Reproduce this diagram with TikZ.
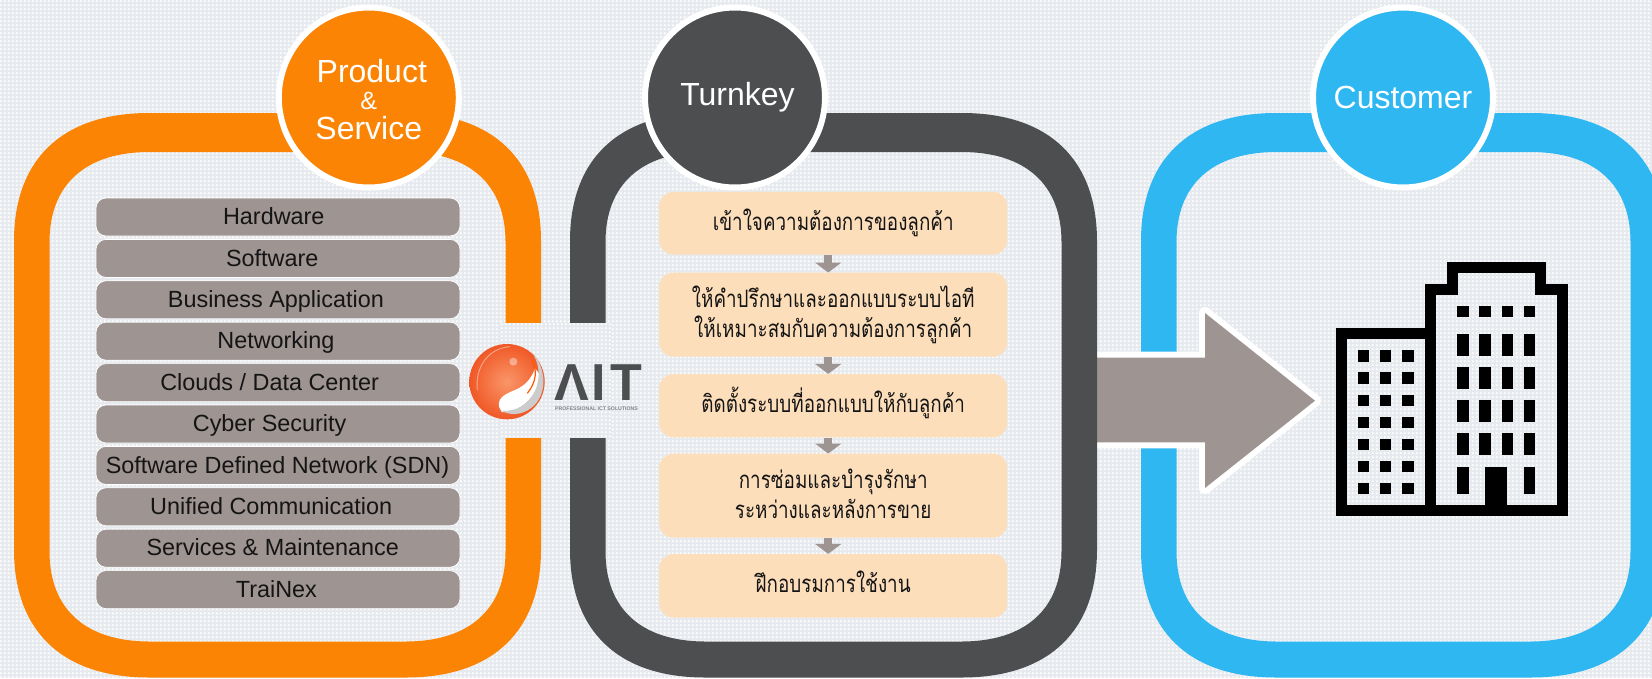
\documentclass[tikz,border=0pt]{standalone}
\usepackage{fontspec}
\setmainfont{Liberation Sans}
\newfontfamily\thaifont[Script=Thai,FakeStretch=0.785]{Loma}
\usetikzlibrary{patterns,arrows.meta}
\pgfdeclarepatternformonly{bgdots}{\pgfpointorigin}{\pgfqpoint{4pt}{4pt}}{\pgfqpoint{4pt}{4pt}}{%
  \pgfpathrectangle{\pgfqpoint{1pt}{1pt}}{\pgfqpoint{2.2pt}{2.2pt}}\pgfusepath{fill}}
\definecolor{bgbase}{HTML}{E6EAEE}
\definecolor{orangeF}{HTML}{FC8404}
\definecolor{darkF}{HTML}{4D4E50}
\definecolor{blueF}{HTML}{2FB7F2}
\definecolor{greyB}{HTML}{9E9492}
\definecolor{beige}{HTML}{FDDEBB}
\newcommand{\rrpath}[6]{({#1},{#2+#6}) .. controls ({#1},{#2+#6*.36}) and ({#1+#5*.36},{#2}) .. ({#1+#5},{#2})
 -- ({#3-#5},{#2}) .. controls ({#3-#5*.36},{#2}) and ({#3},{#2+#6*.36}) .. ({#3},{#2+#6})
 -- ({#3},{#4-#6}) .. controls ({#3},{#4-#6*.36}) and ({#3-#5*.36},{#4}) .. ({#3-#5},{#4})
 -- ({#1+#5},{#4}) .. controls ({#1+#5*.36},{#4}) and ({#1},{#4-#6*.36}) .. ({#1},{#4-#6}) -- cycle}
\newcommand{\frameshape}[5]{\fill[#5,even odd rule] \rrpath{#1}{#2}{#3}{#4}{135}{128}
  \rrpath{#1+35.5}{#2+39}{#3-35.5}{#4-36}{100}{90};}
\newcommand{\twolines}[2]{\rule{0pt}{21pt}#1\\#2\rule[-6pt]{0pt}{6pt}}
\tikzset{
  ringnode/.style={circle,draw=white,line width=6pt,minimum size=180pt,inner sep=0pt,text=white,align=center,font=\fontsize{32}{34}\selectfont},
  listbox/.style={rectangle,rounded corners=10pt,fill=greyB,draw=white,line width=.7pt,minimum width=364pt,minimum height=38pt,inner sep=0pt,text=black!92,text height=17pt,text depth=1.5pt,font=\fontsize{23.4}{26}\selectfont},
  stepbox/.style={rectangle,rounded corners=14pt,fill=beige,minimum width=348pt,inner sep=0pt,text=black!92,align=center,font=\thaifont\fontsize{24}{30}\selectfont},
  oneline/.style={text height=17pt,text depth=3.6pt},
  flowarrow/.style={greyB,line width=8pt,-{Triangle[width=26pt,length=10pt]}},
  win/.style={fill=black}
}
\begin{document}
\begin{tikzpicture}[x=1pt,y=-1pt]
\useasboundingbox (0,0) rectangle (1652,678);
\clip (0,0) rectangle (1652,678);
% background
\fill[bgbase] (0,0) rectangle (1652,678);
\fill[pattern=bgdots,pattern color=white] (0,0) rectangle (1652,678);
% frames
\frameshape{14}{113}{541}{677.5}{orangeF}
\frameshape{1141}{113}{1666}{677.5}{blueF}
% big arrow
\coordinate (aL1) at (1080,357.7);
\coordinate (aB1) at (1205,357.7);
\coordinate (aT) at (1205,313);
\coordinate (aTip) at (1315,400.7);
\coordinate (aD) at (1205,488);
\coordinate (aB2) at (1205,442.3);
\coordinate (aL2) at (1080,442.3);
\fill[greyB,preaction={draw=white,line width=12pt,line join=round}]
  (aL1) -- (aB1) -- (aT) -- (aTip) -- (aD) -- (aB2) -- (aL2) -- cycle;
\frameshape{570}{113}{1097}{677.5}{darkF}
% gap for the logo
\fill[bgbase] (500,323) rectangle (612,438);
\fill[pattern=bgdots,pattern color=white] (500,323) rectangle (612,438);
% circles
\node[ringnode,fill=orangeF] (prod) at (368.8,97.5) {\rule{0pt}{28pt}\hspace*{6pt}Product\\[-7pt]{\fontsize{25}{26}\selectfont \&}\\[-4pt]Service};
\node[ringnode,fill=darkF] (turn) at (735,97.5) {\raisebox{-3pt}{\hspace*{5pt}Turnkey}};
\node[ringnode,fill=blueF] (cust) at (1403,97.5) {\raisebox{-2pt}{Customer}};
% list boxes
\foreach \i/\off/\lbl in {0/8.4/Hardware,1/11.6/Software,2/4.2/{Business Application},3/4.2/Networking,4/16.8/{Clouds / Data Center},5/16.8/{Cyber Security},6/1/{Software Defined Network (SDN)},7/13.6/{Unified Communication},8/10.6/{Services \& Maintenance},9/3.2/TraiNex}
  \node[listbox] (g\i) at (278,{217+41.4*\i}) {\lbl\hspace*{\off pt}};
% step boxes
\node[stepbox,oneline,minimum height=62.7pt] (b1) at (833.2,223.3) {เข้าใจความต้องการของลูกค้า};
\node[stepbox,minimum height=84pt] (b2) at (833.2,314.7) {\twolines{ให้คำปรึกษาและออกแบบระบบไอที}{ให้เหมาะสมกับความต้องการลูกค้า}};
\node[stepbox,oneline,minimum height=63.3pt] (b3) at (833.2,405.7) {ติดตั้งระบบที่ออกแบบให้กับลูกค้า};
\node[stepbox,minimum height=84pt] (b4) at (833.2,495.7) {\twolines{การซ่อมและบำรุงรักษา}{ระหว่างและหลังการขาย}};
\node[stepbox,oneline,minimum height=63.5pt] (b5) at (833.2,585.8) {ฝึกอบรมการใช้งาน};
\foreach \a/\b in {b1/b2,b2/b3,b3/b4,b4/b5}
  \draw[flowarrow] ([xshift=-5pt]\a.south) -- ([xshift=-5pt]\b.north);
% building
\draw[line width=11pt,miter limit=10] (1341.5,510.5) -- (1341.5,333.8) -- (1430,333.8);
\draw[line width=11pt,miter limit=10] (1430,510.5) -- (1430,289.5) -- (1452,289.5) -- (1452,267.7) -- (1540.7,267.7) -- (1540.7,289.5) -- (1562.8,289.5) -- (1562.8,510.5) -- cycle;
\draw[line width=11pt] (1336,510.5) -- (1430,510.5);
\foreach \x in {1357.7,1380,1402.3}
  \foreach \y in {350.3,372.4,394.6,416.7,438.8,460.9,483}
    \fill[win] (\x,\y) rectangle +(11.3,11.3);
\foreach \x in {1457.3,1479.3,1501.7,1524}{
  \fill[win] (\x,306) rectangle +(11.3,11.3);
  \foreach \y in {334,367,400.3,433.3}
    \fill[win] (\x,\y) rectangle +(11.3,22);
}
\foreach \x in {1457.3,1524}
  \fill[win] (\x,466.7) rectangle +(11.3,27.6);
\fill[win] (1485.3,466.7) rectangle (1507.3,506);
% logo
\begin{scope}[shift={(420,280)},x=.3333pt,y=-.3333pt]
  \shade[inner color={rgb,255:red,250;green,150;blue,105},outer color={rgb,255:red,240;green,88;blue,38}]
    (261,305) circle (113);
  \fill[white] (237,380) .. controls (232,350) and (262,340) .. (285,330)
     .. controls (315,318) and (335,295) .. (345,265) -- (365,290)
     .. controls (350,350) and (300,400) .. (245,396) -- cycle;
  \fill[gray!40] (335,216) .. controls (372,255) and (385,320) .. (350,368)
     .. controls (320,405) and (275,410) .. (243,392)
     .. controls (285,397) and (330,375) .. (350,320)
     .. controls (362,280) and (355,245) .. (335,216) -- cycle;
  \draw[orange!70!red,line width=1.2pt] (336,240) .. controls (352,270) and (350,305) .. (322,340);
  \draw[white,opacity=.45,line width=.9pt] (172,330) .. controls (165,260) and (205,205) .. (270,200);
  \fill[white,opacity=.4] (280,245) circle (12);
\end{scope}
\node[anchor=base west,inner sep=0pt,text=darkF,text height=37pt,text depth=0pt,font=\bfseries\fontsize{52}{52}\selectfont] (ait) at (554,400.7) {Λ\kern 3pt I\kern 4pt T};
\node[anchor=base west,inner sep=0pt,text=darkF!70,text height=4pt,text depth=0pt,font=\bfseries\fontsize{5.2}{6}\selectfont] (tag) at (555,410) {PROFESSIONAL ICT SOLUTIONS};
\end{tikzpicture}
\end{document}
